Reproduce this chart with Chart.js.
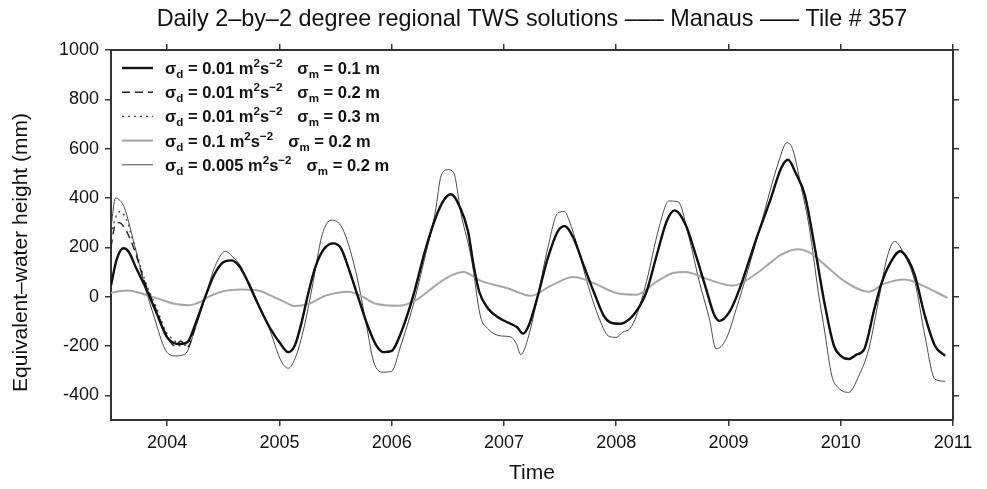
<!DOCTYPE html>
<html>
<head>
<meta charset="utf-8">
<script src="https://cdn.jsdelivr.net/npm/chart.js@4.4.1/dist/chart.umd.min.js"></script>
<style>
body { margin: 0; background: #fff; }
#wrap { position: relative; width: 987px; height: 489px; }
#legend { position: absolute; left: 165px; top: 56px; font: bold 16.5px "Liberation Sans", Arial, sans-serif; color: #111; }
#legend div { height: 24.2px; line-height: 24px; white-space: nowrap; }
#legend sub, #legend sup { font-size: 70%; line-height: 0; }
#legend sub { vertical-align: -0.35em; }
#legend sup { vertical-align: 0.6em; }
#legend .m { margin-left: 15px; }
</style>
</head>
<body>
<div id="wrap">
  <canvas id="tws_chart" width="987" height="489"></canvas>
  <div id="legend"></div>
</div>
<script>
// values (years, mm)
const thickYears = [2003.50, 2003.55, 2003.61, 2003.66, 2003.72, 2003.80, 2003.90, 2004.00, 2004.06, 2004.12, 2004.18, 2004.26, 2004.34, 2004.42, 2004.50, 2004.57, 2004.64, 2004.72, 2004.82, 2004.92, 2005.00, 2005.08, 2005.14, 2005.20, 2005.25, 2005.32, 2005.40, 2005.48, 2005.55, 2005.62, 2005.70, 2005.78, 2005.86, 2005.93, 2006.00, 2006.08, 2006.19, 2006.30, 2006.40, 2006.47, 2006.53, 2006.60, 2006.68, 2006.73, 2006.78, 2006.86, 2006.97, 2007.06, 2007.12, 2007.17, 2007.22, 2007.30, 2007.39, 2007.48, 2007.54, 2007.62, 2007.71, 2007.80, 2007.89, 2007.95, 2008.03, 2008.12, 2008.21, 2008.27, 2008.36, 2008.45, 2008.52, 2008.62, 2008.71, 2008.80, 2008.87, 2008.92, 2009.01, 2009.10, 2009.19, 2009.25, 2009.37, 2009.47, 2009.53, 2009.60, 2009.68, 2009.77, 2009.86, 2009.94, 2010.00, 2010.07, 2010.14, 2010.21, 2010.30, 2010.36, 2010.43, 2010.53, 2010.60, 2010.66, 2010.75, 2010.84, 2010.93];
const thickValues = [45, 150, 196, 180, 120, 45, -60, -165, -188, -192, -185, -100, 0, 90, 140, 147, 125, 60, -40, -130, -185, -225, -195, -100, 0, 120, 195, 216, 195, 110, 0, -110, -195, -225, -220, -150, 0, 190, 330, 395, 415, 371, 265, 127, 20, -49, -90, -110, -125, -150, -118, 0, 155, 265, 286, 237, 127, 20, -78, -105, -110, -90, -37, 20, 167, 306, 350, 290, 167, 33, -70, -98, -61, 33, 155, 237, 388, 522, 555, 500, 412, 196, -37, -200, -240, -253, -235, -212, -49, 50, 127, 184, 150, 86, -78, -200, -240];

// sigma_m = 0.2 and 0.3 only differ from the 0.1 run in the first months
const dashedEarlyYears = [2003.50, 2003.53, 2003.57, 2003.62, 2003.70, 2003.80, 2003.90, 2004.00, 2004.07, 2004.12, 2004.18, 2004.26];
const dashedEarlyValues = [200, 280, 300, 280, 200, 60, -50, -160, -200, -180, -205, -110];
const dottedEarlyYears = [2003.50, 2003.54, 2003.58, 2003.63, 2003.72, 2003.80, 2003.90, 2004.00, 2004.06, 2004.12, 2004.18, 2004.26];
const dottedEarlyValues = [250, 320, 345, 320, 190, 70, -40, -150, -175, -200, -190, -105];

const smoothYears = [2003.50, 2003.57, 2003.65, 2003.78, 2003.92, 2004.07, 2004.19, 2004.30, 2004.37, 2004.50, 2004.66, 2004.81, 2004.92, 2005.04, 2005.14, 2005.26, 2005.41, 2005.52, 2005.62, 2005.74, 2005.86, 2006.06, 2006.21, 2006.39, 2006.53, 2006.64, 2006.79, 2007.04, 2007.24, 2007.42, 2007.62, 2007.80, 2008.00, 2008.18, 2008.36, 2008.50, 2008.62, 2008.80, 2009.04, 2009.25, 2009.38, 2009.47, 2009.62, 2009.72, 2009.83, 2010.04, 2010.25, 2010.39, 2010.57, 2010.75, 2010.95];
const smoothValues = [15, 22, 25, 12, -8, -29, -35, -20, 0, 22, 29, 25, 5, -20, -38, -29, 4, 16, 20, 0, -29, -37, -16, 45, 86, 100, 65, 33, 4, 45, 80, 55, 15, 8, 61, 95, 100, 73, 45, 94, 140, 170, 192, 180, 140, 61, 20, 53, 70, 41, -5];

const thinYears = [2003.50, 2003.54, 2003.58, 2003.62, 2003.71, 2003.80, 2003.89, 2003.98, 2004.07, 2004.16, 2004.25, 2004.34, 2004.43, 2004.52, 2004.58, 2004.66, 2004.75, 2004.90, 2005.02, 2005.08, 2005.14, 2005.21, 2005.29, 2005.38, 2005.46, 2005.56, 2005.68, 2005.77, 2005.84, 2005.92, 2006.00, 2006.08, 2006.19, 2006.30, 2006.39, 2006.44, 2006.50, 2006.55, 2006.62, 2006.71, 2006.79, 2006.86, 2006.97, 2007.06, 2007.11, 2007.15, 2007.22, 2007.30, 2007.39, 2007.48, 2007.54, 2007.58, 2007.66, 2007.75, 2007.84, 2007.93, 2008.00, 2008.06, 2008.12, 2008.18, 2008.27, 2008.38, 2008.47, 2008.55, 2008.65, 2008.74, 2008.83, 2008.89, 2008.98, 2009.07, 2009.16, 2009.28, 2009.45, 2009.52, 2009.57, 2009.65, 2009.72, 2009.80, 2009.86, 2009.92, 2009.98, 2010.07, 2010.16, 2010.25, 2010.34, 2010.41, 2010.48, 2010.57, 2010.66, 2010.75, 2010.84, 2010.93];
const thinValues = [280, 400, 390, 360, 208, 45, -90, -212, -240, -233, -130, 0, 127, 184, 163, 120, 20, -118, -265, -290, -250, -143, 33, 249, 310, 278, 102, -102, -265, -306, -302, -200, -37, 167, 347, 490, 515, 505, 331, 155, -78, -131, -159, -163, -190, -235, -159, 0, 196, 339, 345, 310, 196, 45, -78, -159, -165, -143, -131, -78, 61, 278, 388, 385, 237, 61, -90, -212, -171, -49, 86, 278, 551, 624, 600, 440, 280, 20, -150, -320, -370, -388, -322, -212, -8, 155, 224, 167, 61, -159, -335, -343];

const sigmaD = ['0.01', '0.01', '0.01', '0.1', '0.005'];
const sigmaM = ['0.1', '0.2', '0.3', '0.2', '0.2'];
const yearTicks = [2004, 2005, 2006, 2007, 2008, 2009, 2010, 2011];

function toPoints(xs, ys) {
    return xs.map(function (x, i) { return { x: x, y: ys[i] }; });
}

// after the early part the dashed/dotted runs lie on the thick one
var lastEarly = dashedEarlyYears[dashedEarlyYears.length - 1];
var thickLate = toPoints(thickYears, thickValues).filter(function (p) { return p.x > lastEarly; });

const FONT = '"Liberation Sans", Arial, sans-serif';
const AX = '#333';

var datasets = [
    { data: toPoints(thickYears, thickValues), borderColor: '#111', borderWidth: 2.4 },
    { data: toPoints(dashedEarlyYears, dashedEarlyValues).concat(thickLate), borderColor: '#222', borderWidth: 1.4, borderDash: [8, 5] },
    { data: toPoints(dottedEarlyYears, dottedEarlyValues).concat(thickLate), borderColor: '#444', borderWidth: 1.4, borderDash: [2, 4] },
    { data: toPoints(smoothYears, smoothValues), borderColor: '#a6a6a6', borderWidth: 2 },
    { data: toPoints(thinYears, thinValues), borderColor: '#4a4a4a', borderWidth: 1 }
];
datasets.forEach(function (ds, i) {
    ds.label = 'σd = ' + sigmaD[i] + ' m²s⁻²  σm = ' + sigmaM[i] + ' m';
    ds.pointRadius = 0;
    ds.fill = false;
    ds.cubicInterpolationMode = 'monotone';
});

// legend text with sub/superscripts
var legendHtml = '';
for (var i = 0; i < sigmaD.length; i++) {
    legendHtml += '<div>σ<sub>d</sub> = ' + sigmaD[i] + ' m<sup>2</sup>s<sup>−2</sup>' +
        '<span class="m">σ<sub>m</sub> = ' + sigmaM[i] + ' m</span></div>';
}
document.getElementById('legend').innerHTML = legendHtml;

// little line samples next to the legend text
const legendSamples = {
    id: 'legendSamples',
    afterDraw: function (chart) {
        var ctx = chart.ctx;
        var a = chart.chartArea;
        chart.data.datasets.forEach(function (ds, i) {
            var y = a.top + 18 + i * 24.2;
            ctx.save();
            ctx.strokeStyle = ds.borderColor;
            ctx.lineWidth = ds.borderWidth;
            ctx.setLineDash(ds.borderDash || []);
            ctx.beginPath();
            ctx.moveTo(a.left + 11, y);
            ctx.lineTo(a.left + 42, y);
            ctx.stroke();
            ctx.restore();
        });
    }
};

function sideAxis(position, extra) {
    var o = {
        position: position,
        grid: { display: true, drawOnChartArea: false, drawTicks: true, tickLength: 6, color: AX, lineWidth: 1.5 },
        border: { display: true, color: AX, width: 2 },
        ticks: { display: false }
    };
    return Object.assign(o, extra);
}

new Chart(document.getElementById('tws_chart'), {
    type: 'line',
    data: { datasets: datasets },
    options: {
        responsive: false,
        animation: false,
        layout: { padding: 0 },
        plugins: {
            legend: { display: false },
            tooltip: { enabled: false }
        },
        scales: {
            x: sideAxis('bottom', {
                type: 'linear', min: 2003.5, max: 2011,
                ticks: {
                    display: true, stepSize: 1, includeBounds: false, color: '#111', padding: 6,
                    font: { family: FONT, size: 18 },
                    callback: function (v) { return yearTicks.indexOf(v) >= 0 ? String(v) : ''; }
                },
                title: { display: true, text: 'Time', color: '#111', font: { family: FONT, size: 21 }, padding: { top: 0, bottom: 3 } },
                afterFit: function (s) { s.height = 69; }
            }),
            // top axis carries the figure title so it is centred on the plot box
            x2: sideAxis('top', {
                type: 'linear', min: 2003.5, max: 2011,
                ticks: { display: false, stepSize: 1, includeBounds: false },
                title: {
                    display: true,
                    text: 'Daily 2–by–2 degree regional TWS solutions ––– Manaus ––– Tile # 357',
                    color: '#111', font: { family: FONT, size: 23.4 }, padding: { top: 6, bottom: 0 }
                },
                afterFit: function (s) { s.height = 50; }
            }),
            y: sideAxis('left', {
                type: 'linear', min: -500, max: 1000,
                ticks: {
                    display: true, stepSize: 200, includeBounds: false, color: '#111', padding: 6,
                    font: { family: FONT, size: 18 },
                    callback: function (v) { return String(v); }
                },
                title: { display: true, text: 'Equivalent–water height (mm)      ', color: '#111', font: { family: FONT, size: 21 }, padding: { top: 9, bottom: 0 } },
                afterFit: function (s) { s.width = 111; }
            }),
            y2: sideAxis('right', {
                type: 'linear', min: -500, max: 1000,
                ticks: { display: false, stepSize: 200, includeBounds: false },
                afterFit: function (s) { s.width = 34; }
            })
        }
    },
    plugins: [legendSamples]
});
</script>
</body>
</html>
